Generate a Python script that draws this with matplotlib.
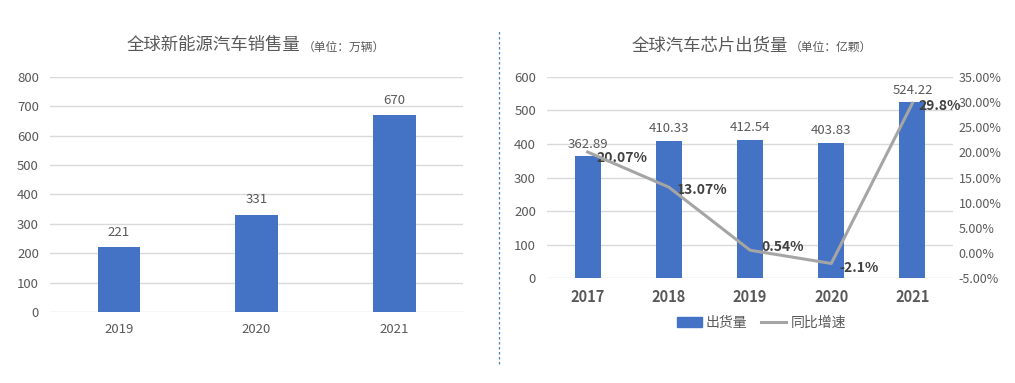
import numpy as np
import matplotlib
matplotlib.use("Agg")
import matplotlib.pyplot as plt
from matplotlib.lines import Line2D

plt.rcParams['font.family'] = ['Noto Sans CJK SC', 'DejaVu Sans']

# left chart data
ev_years = ['2019', '2020', '2021']
ev_sales = [221, 331, 670]

# right chart data
chip_years = ['2017', '2018', '2019', '2020', '2021']
chip_ship = [362.89, 410.33, 412.54, 403.83, 524.22]
chip_growth = [20.07, 13.07, 0.54, -2.1, 29.8]
growth_labels = ['20.07%', '13.07%', '0.54%', '-2.1%', '29.8%']

BLUE = '#4472C4'
GRAY_LINE = '#A5A5A5'
GRID = '#D9D9D9'
TXT = '#595959'

fig = plt.figure(figsize=(10.15, 3.83), dpi=100)

# ---- left chart
ax1 = fig.add_axes([0.0493, 0.1854, 0.4069, 0.6136])
x1 = np.arange(len(ev_years))
ax1.bar(x1, ev_sales, width=0.31, color=BLUE, zorder=3)
for xi, v in zip(x1, ev_sales):
	ax1.annotate(str(v), (xi, v), xytext=(0, 6), textcoords='offset points',
		ha='center', va='bottom', fontsize=9.5, color=TXT)
ax1.set_ylim(0, 800)
ax1.set_yticks(np.arange(0, 801, 100))
ax1.set_xlim(-0.5, len(ev_years) - 0.5)
ax1.set_xticks(x1)
ax1.set_xticklabels(ev_years)
ax1.grid(axis='y', color=GRID, linewidth=1, zorder=0)
for s in ax1.spines.values():
	s.set_visible(False)
ax1.tick_params(axis='both', length=0, labelsize=9.5, labelcolor=TXT)
ax1.tick_params(axis='x', pad=8)
ax1.tick_params(axis='y', pad=8)

fig.text(0.296, 0.882, '全球新能源汽车销售量', ha='right', va='center', fontsize=12.5, color=TXT)
fig.text(0.298, 0.877, '（单位：万辆）', ha='left', va='center', fontsize=8.5, color=TXT)

# dashed divider
fig.add_artist(Line2D([0.4916, 0.4916], [0.05, 0.92], transform=fig.transFigure,
	color='#4F81BD', linestyle=(0, (2, 2)), linewidth=0.9))

# ---- right chart
ax2 = fig.add_axes([0.539, 0.274, 0.400, 0.525])
x2 = np.arange(len(chip_years))
ax2.bar(x2, chip_ship, width=0.32, color=BLUE, zorder=3, label='出货量')
for xi, v in zip(x2, chip_ship):
	ax2.annotate('%.2f' % v, (xi, v), xytext=(0, 4), textcoords='offset points',
		ha='center', va='bottom', fontsize=9.5, color=TXT)
ax2.set_ylim(0, 600)
ax2.set_yticks(np.arange(0, 601, 100))
ax2.set_xlim(-0.5, len(chip_years) - 0.5)
ax2.set_xticks(x2)
ax2.set_xticklabels(chip_years, fontweight='bold')
ax2.grid(axis='y', color=GRID, linewidth=1, zorder=0)
for s in ax2.spines.values():
	s.set_visible(False)
ax2.tick_params(axis='both', length=0, labelsize=9.5, labelcolor=TXT)
ax2.tick_params(axis='x', pad=8, labelsize=10.5)
ax2.tick_params(axis='y', pad=8)

ax3 = ax2.twinx()
ax3.plot(x2, chip_growth, color=GRAY_LINE, linewidth=2.2, zorder=4, label='同比增速')
ax3.set_ylim(-5, 35)
ax3.set_yticks(np.arange(-5, 36, 5))
ax3.set_yticklabels(['%.2f%%' % t for t in np.arange(-5, 36, 5)])
for s in ax3.spines.values():
	s.set_visible(False)
ax3.tick_params(axis='y', length=0, labelsize=9, labelcolor=TXT, pad=4)

offsets = [(6, -4), (6, -2), (8, 2), (6, -3), (4, -2)]
for xi, v, lab, off in zip(x2, chip_growth, growth_labels, offsets):
	ax3.annotate(lab, (xi, v), xytext=off, textcoords='offset points',
		ha='left', va='center', fontsize=10, fontweight='bold', color='#404040')

fig.text(0.776, 0.882, '全球汽车芯片出货量', ha='right', va='center', fontsize=12.5, color=TXT)
fig.text(0.778, 0.877, '（单位：亿颗）', ha='left', va='center', fontsize=8.5, color=TXT)

handles = [plt.Rectangle((0, 0), 1, 1, color=BLUE),
	Line2D([0], [0], color=GRAY_LINE, linewidth=2.2)]
fig.legend(handles, ['出货量', '同比增速'], loc='center', bbox_to_anchor=(0.75, 0.157),
	ncol=2, frameon=False, fontsize=10, labelcolor=TXT, handlelength=1.8,
	handletextpad=0.3, columnspacing=1.0)

fig.savefig('out.png', dpi=100)
